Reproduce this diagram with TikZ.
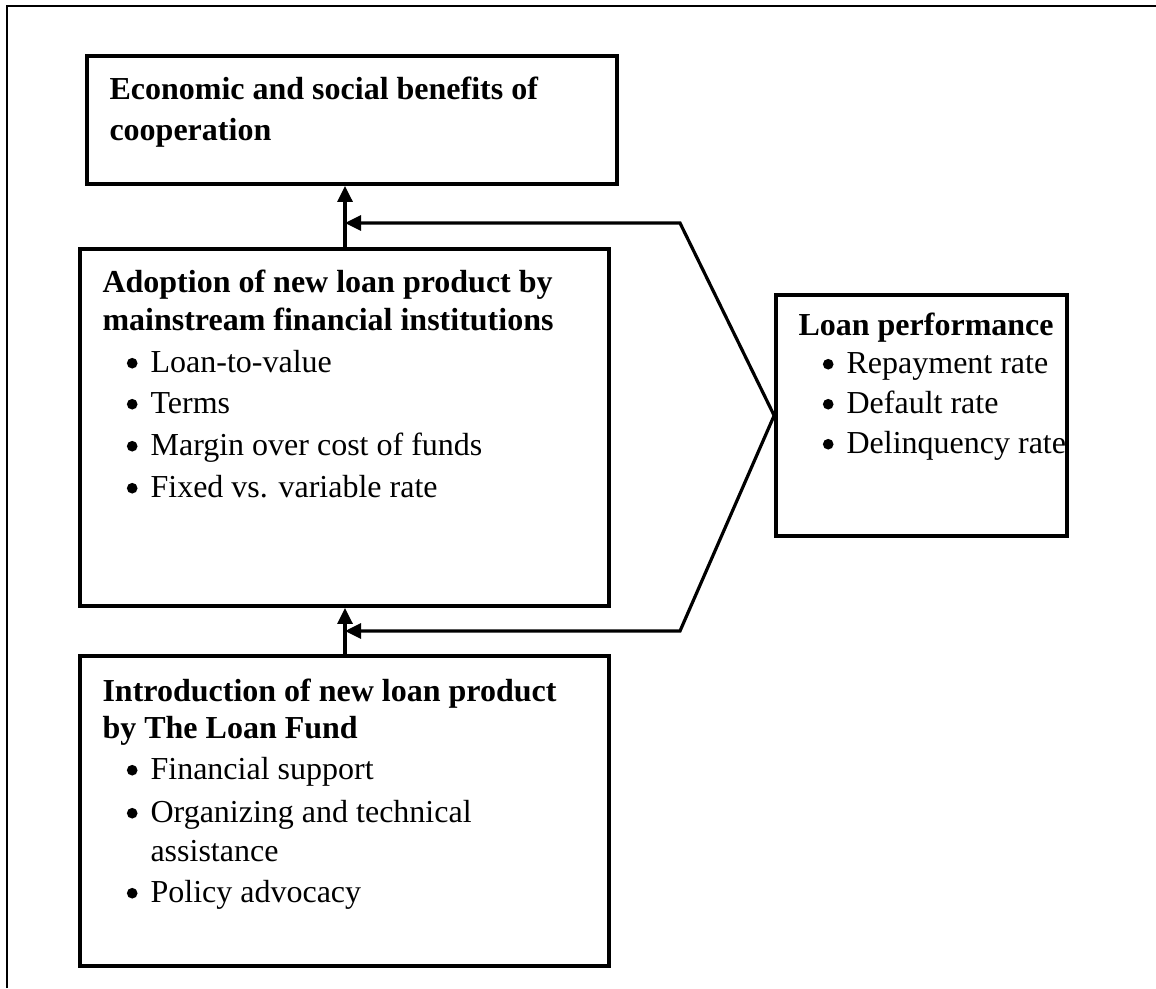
\documentclass[tikz,border=0pt]{standalone}
\usepackage{fontspec}
\setmainfont{Liberation Serif}
\usetikzlibrary{arrows.meta,fit}
\tikzset{
  frameline/.style={line width=0.75pt},
  box/.style={draw, line width=1.4pt, rectangle, inner sep=0pt},
  head/.style={anchor=base west, inner sep=0pt, font=\fontsize{12}{14}\selectfont\bfseries},
  item/.style={anchor=base west, inner sep=0pt, font=\fontsize{12}{14}\selectfont},
  arr/.style={line width=1.2pt, -{Triangle[length=6pt,width=5.6pt]}}
}
\newcommand{\bul}{\makebox[9.4pt][l]{\hspace{0.5pt}\tikz[baseline=0pt]\fill (2pt,3.3pt) circle (2pt);}}
\begin{document}
\begin{tikzpicture}[x=0.375pt,y=-0.375pt]
\useasboundingbox (0,0) rectangle (1156,988);
% outer frame
\coordinate (fa) at (7,988);
\coordinate (fb) at (7,6);
\coordinate (fc) at (1156,6);
\draw[frameline] (fa) -- (fb) -- (fc);

% boxes
\coordinate (b1a) at (87,56);  \coordinate (b1b) at (617,184);
\coordinate (b2a) at (80,249); \coordinate (b2b) at (609,606);
\coordinate (b3a) at (776,295); \coordinate (b3b) at (1067,536);
\coordinate (b4a) at (80,656); \coordinate (b4b) at (609,966);
\node[box, fit=(b1a)(b1b)] (B1) {};
\node[box, fit=(b2a)(b2b)] (B2) {};
\node[box, fit=(b3a)(b3b)] (B3) {};
\node[box, fit=(b4a)(b4b)] (B4) {};

% texts box 1
\node[head] (t1a) at (109,99) {Economic and social benefits of};
\node[head] (t1b) at (109,140) {cooperation};
% texts box 2
\node[head] (t2a) at (102,292) {Adoption of new loan product by};
\node[head] (t2b) at (102,330) {mainstream financial institutions};
\node[item] (t2c) at (125,372) {\bul Loan-to-value};
\node[item] (t2d) at (125,413) {\bul Terms};
\node[item] (t2e) at (125,455) {\bul Margin over cost of funds};
\node[item] (t2f) at (125,497) {\bul Fixed vs. variable rate};
% texts box 3
\node[head] (t3a) at (798,335) {Loan performance};
\node[item] (t3b) at (821,373) {\bul Repayment rate};
\node[item] (t3c) at (821,413) {\bul Default rate};
\node[item] (t3d) at (821,453) {\bul Delinquency rate};
% texts box 4
\node[head] (t4a) at (102,701) {Introduction of new loan product};
\node[head] (t4b) at (102,738) {by The Loan Fund};
\node[item] (t4c) at (125,779) {\bul Financial support};
\node[item] (t4d) at (125,822) {\bul Organizing and technical};
\node[item] (t4e) at (150,861) {assistance};
\node[item] (t4f) at (125,902) {\bul Policy advocacy};

% connectors
\coordinate (ax) at (345,0);
\coordinate (k1) at (680,223);
\coordinate (k2) at (680,631);
\draw[arr] (ax |- B2.north) -- (ax |- B1.south);
\draw[arr] (ax |- B4.north) -- (ax |- B2.south);
\draw[arr] (B3.west) -- (k1) -- (ax |- k1);
\draw[arr] (B3.west) -- (k2) -- (ax |- k2);
\end{tikzpicture}
\end{document}
